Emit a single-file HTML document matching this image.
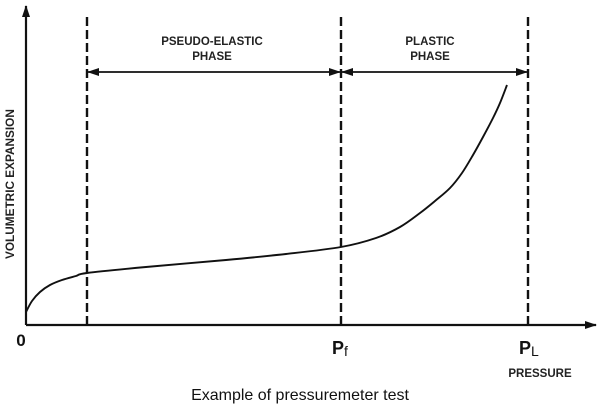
<!DOCTYPE html>
<html><head><meta charset="utf-8"><style>
body{margin:0;background:#fff;width:600px;height:417px;overflow:hidden}
svg{display:block;font-family:"Liberation Sans",Arial,sans-serif}
</style></head><body>
<svg width="600" height="417" viewBox="0 0 600 417">
<defs>
<marker id="ah" markerWidth="12" markerHeight="8" refX="11" refY="4" orient="auto-start-reverse" markerUnits="userSpaceOnUse">
<path d="M0,0 L12,4 L0,8 Z" fill="#111"/></marker>
</defs>
<g id="axes"></g>
<g id="marks"></g>
<text x="0" y="0" transform="translate(14,259) rotate(-90)" font-size="11.8" font-weight="bold" fill="#222" text-anchor="start">VOLUMETRIC EXPANSION</text>
<text x="21" y="346" font-size="17" font-weight="bold" fill="#111" text-anchor="middle">0</text>
<text x="332" y="354" font-size="18" font-weight="bold" fill="#111">P<tspan font-size="14" font-weight="normal" dy="2">f</tspan></text>
<text x="519" y="354" font-size="18" font-weight="bold" fill="#111">P<tspan font-size="14" font-weight="normal" dy="2">L</tspan></text>
<text x="540" y="377" font-size="11.5" font-weight="bold" fill="#222" text-anchor="middle">PRESSURE</text>
<text x="212" y="45" font-size="11.5" font-weight="bold" fill="#222" text-anchor="middle">PSEUDO-ELASTIC</text>
<text x="212" y="60" font-size="11.5" font-weight="bold" fill="#222" text-anchor="middle">PHASE</text>
<text x="430" y="45" font-size="11.5" font-weight="bold" fill="#222" text-anchor="middle">PLASTIC</text>
<text x="430" y="60" font-size="11.5" font-weight="bold" fill="#222" text-anchor="middle">PHASE</text>
<text x="300" y="400" font-size="16" fill="#111" text-anchor="middle">Example of pressuremeter test</text>
</svg>
<script>
const pressure=[0,6,14,24,36,50,61,120,200,260,315,350,374,394,409,424,436,447,457,467,474,481];
const volume=[13,24,33,40,45,49,52,58,65,71,78,87,98,112,124,137,152,170,188,207,222,240];
const markers=[61,315,502];
const markerNames=['yield-line','pf-line','pl-line'];
const X0=26,Y0=325;
const xs=v=>X0+v, ys=v=>Y0-v;
const NS='http://www.w3.org/2000/svg';
function mk(t,a,p){const e=document.createElementNS(NS,t);for(const k in a)e.setAttribute(k,a[k]);p.appendChild(e);return e;}
const axes=document.getElementById('axes'),marks=document.getElementById('marks');
let e=mk('line',{x1:X0,y1:Y0,x2:X0,y2:6,stroke:'#111','stroke-width':2.2,'marker-end':'url(#ah)'},axes);


e=mk('line',{x1:X0,y1:Y0,x2:596,y2:Y0,stroke:'#111','stroke-width':2.2,'marker-end':'url(#ah)'},axes);


markers.forEach((m,i)=>{
 const l=mk('line',{x1:xs(m),y1:17,x2:xs(m),y2:Y0,stroke:'#111','stroke-width':2.4,'stroke-dasharray':'9,4'},marks);
 
 
});
const ay=72;
e=mk('line',{x1:xs(markers[0])+1,y1:ay,x2:xs(markers[1])-1,y2:ay,stroke:'#111','stroke-width':1.7,'marker-start':'url(#ah)','marker-end':'url(#ah)'},marks);


e=mk('line',{x1:xs(markers[1])+1,y1:ay,x2:xs(markers[2])-1,y2:ay,stroke:'#111','stroke-width':1.7,'marker-start':'url(#ah)','marker-end':'url(#ah)'},marks);


const P=pressure.map((p,i)=>[xs(p),ys(volume[i])]);
let d='M'+P[0][0]+','+P[0][1];
for(let i=0;i<P.length-1;i++){
 const p0=P[i-1]||P[i],p1=P[i],p2=P[i+1],p3=P[i+2]||P[i+1];
 d+=' C'+(p1[0]+(p2[0]-p0[0])/6)+','+(p1[1]+(p2[1]-p0[1])/6)+' '+(p2[0]-(p3[0]-p1[0])/6)+','+(p2[1]-(p3[1]-p1[1])/6)+' '+p2[0]+','+p2[1];
}
e=mk('path',{d:d,fill:'none',stroke:'#111','stroke-width':1.9},marks);


</script>
</body></html>
